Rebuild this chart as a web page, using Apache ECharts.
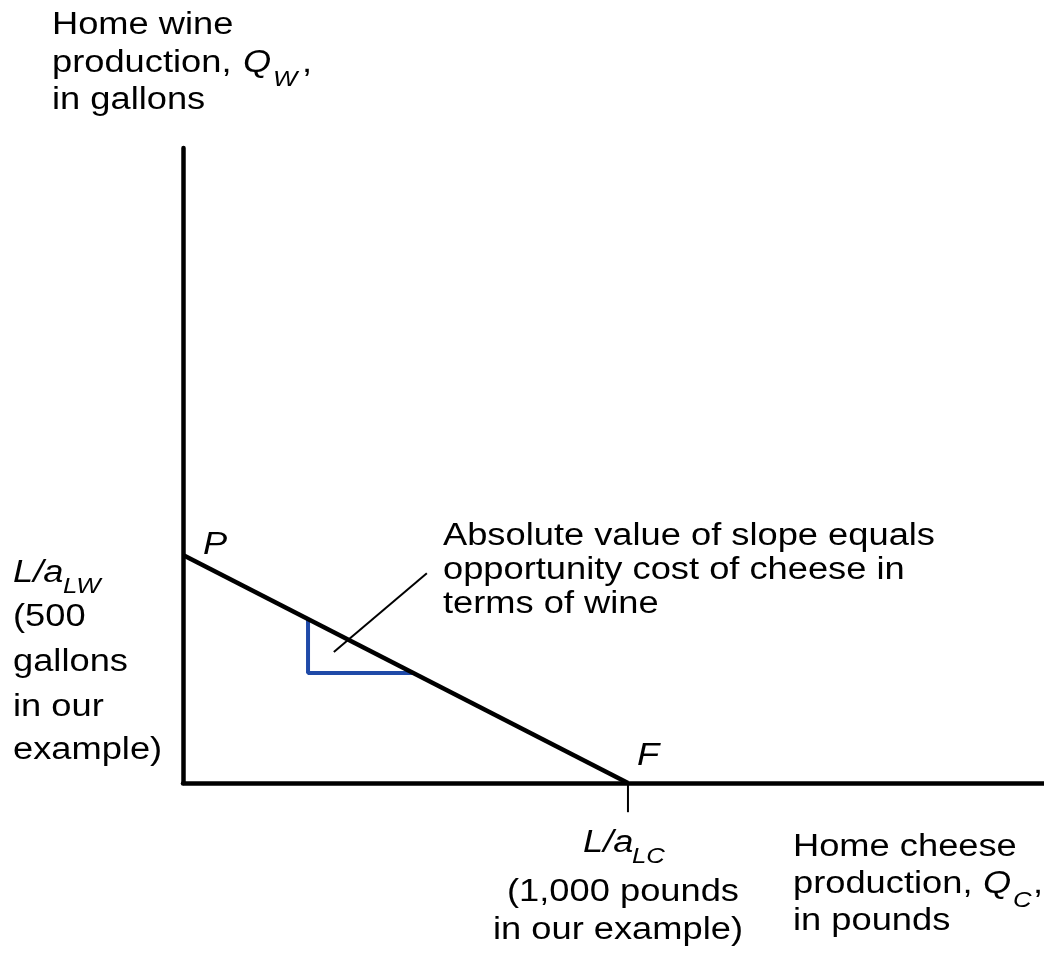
<!DOCTYPE html>
<html>
<head>
<meta charset="utf-8">
<script src="https://cdn.jsdelivr.net/npm/echarts@6/dist/echarts.min.js"></script>
<style>
  html, body { margin: 0; padding: 0; background: #fff; }
  #main { width: 1044px; height: 955px; }
</style>
</head>
<body>
<div id="main"></div>
<script>
  // production possibility frontier (cheese in pounds, wine in gallons)
  const ppfCheese = [0, 1000];
  const ppfWine = [500, 0];
  // slope triangle under the frontier
  const triCheese = [281, 281, 518];
  const triWine = [358, 241, 241];
  // leader line from the triangle to the note
  const leaderCheese = [339, 548];
  const leaderWine = [287, 460];
  // intercept ticks
  const wineTickCheese = [-63, 0];
  const wineTickWine = [500, 500];
  const cheeseTickCheese = [1000, 1000];
  const cheeseTickWine = [0, -64];
  const axisMax = { cheese: 1935, wine: 1392 };

  const pairs = (xs, ys) => xs.map((x, i) => [x, ys[i]]);

  const FONT = '"Liberation Sans", Arial, sans-serif';
  const SX = 1.17; // source text is a bit wide
  function txt(s, x, base, size, italic, align) {
    return {
      type: 'text',
      x: x,
      y: base - 0.3 * size,
      scaleX: SX,
      silent: true,
      style: {
        text: s,
        font: (italic ? 'italic ' : '') + size + 'px ' + FONT,
        fill: '#000',
        textAlign: align || 'left',
        textVerticalAlign: 'middle'
      }
    };
  }

  function lineSeries(data, color, width) {
    return {
      type: 'line',
      data: data,
      symbol: 'none',
      clip: false,
      silent: true,
      lineStyle: { color: color, width: width }
    };
  }

  let chart = echarts.init(document.getElementById('main'));
  let option = {
    animation: false,
    grid: { left: 183, right: 0, top: 148, bottom: 172 },
    xAxis: {
      type: 'value', min: 0, max: axisMax.cheese,
      axisLine: { show: true, lineStyle: { color: '#000', width: 4.5 } },
      axisTick: { show: false }, axisLabel: { show: false }, splitLine: { show: false }
    },
    yAxis: {
      type: 'value', min: 0, max: axisMax.wine,
      axisLine: { show: true, lineStyle: { color: '#000', width: 4.5 } },
      axisTick: { show: false }, axisLabel: { show: false }, splitLine: { show: false }
    },
    series: [
      lineSeries(pairs(wineTickCheese, wineTickWine), '#000', 2),
      lineSeries(pairs(cheeseTickCheese, cheeseTickWine), '#000', 2),
      lineSeries(pairs(triCheese, triWine), '#1f4aa8', 4),
      lineSeries(pairs(leaderCheese, leaderWine), '#000', 2),
      lineSeries(pairs(ppfCheese, ppfWine), '#000', 4.5)
    ],
    graphic: [
      // y axis title
      txt('Home wine', 52, 35, 31),
      txt('production, ', 52, 73, 31),
      txt('Q', 243, 73, 31, true),
      txt('W', 273, 86, 22, true),
      txt(',', 302, 73, 31),
      txt('in gallons', 52, 110, 31),
      // y intercept
      txt('L/a', 13, 583, 31, true),
      txt('LW', 63, 593, 22, true),
      txt('(500', 13, 627, 31),
      txt('gallons', 13, 672, 31),
      txt('in our', 13, 717, 31),
      txt('example)', 13, 760, 31),
      // points
      txt('P', 203, 555, 31, true),
      txt('F', 637, 766, 31, true),
      // note
      txt('Absolute value of slope equals', 443, 546, 31),
      txt('opportunity cost of cheese in', 443, 580, 31),
      txt('terms of wine', 443, 614, 31),
      // x intercept
      txt('L/a', 583, 853, 31, true),
      txt('LC', 632, 863, 22, true),
      txt('(1,000 pounds', 623, 902, 31, false, 'center'),
      txt('in our example)', 618, 940, 31, false, 'center'),
      // x axis title
      txt('Home cheese', 793, 857, 31),
      txt('production, ', 793, 894, 31),
      txt('Q', 983, 894, 31, true),
      txt('C', 1013, 907, 22, true),
      txt(',', 1033, 894, 31),
      txt('in pounds', 793, 931, 31)
    ]
  };
  chart.setOption(option);
</script>
</body>
</html>
